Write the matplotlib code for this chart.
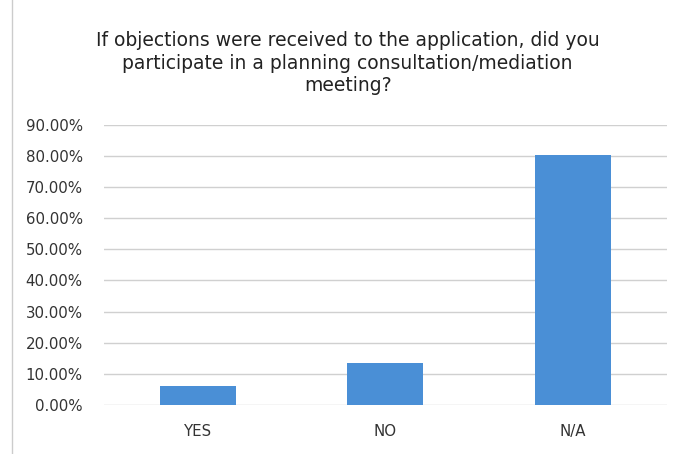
import matplotlib
matplotlib.use('Agg')
import matplotlib.pyplot as plt
from matplotlib.ticker import FuncFormatter

categories = ['YES', 'NO', 'N/A']
values = [6.0, 13.4, 80.2]
yticks = [0, 10, 20, 30, 40, 50, 60, 70, 80, 90]
title = ('If objections were received to the application, did you\n'
         'participate in a planning consultation/mediation\n'
         'meeting?')

fig = plt.figure(figsize=(6.75, 4.54), dpi=100)
ax = fig.add_axes([0.1537, 0.1079, 0.8341, 0.6174])

ax.bar(range(len(categories)), values, width=0.405, color='#4a8fd6', zorder=3)

ax.set_xlim(-0.5, len(categories) - 0.5)
ax.set_ylim(0, 90)
ax.set_yticks(yticks)
ax.yaxis.set_major_formatter(FuncFormatter(lambda v, p: '%.2f%%' % v))
ax.set_xticks(range(len(categories)))
ax.set_xticklabels(categories)
ax.tick_params(axis='both', length=0, labelsize=10.8, colors='#333333')
ax.tick_params(axis='y', pad=15)
ax.tick_params(axis='x', pad=14)
ax.grid(axis='y', color='#d0d0d0', linewidth=1, zorder=0)
for s in ax.spines.values():
    s.set_visible(False)

fig.text(0.515, 0.861, title, ha='center', va='center', fontsize=13.5,
         color='#222222', linespacing=1.25)

# thin frame around the chart
fig.add_artist(plt.Line2D([0.018, 0.018], [0.0, 1.0], color='#cccccc', lw=1))

fig.savefig('out.png', dpi=100)
